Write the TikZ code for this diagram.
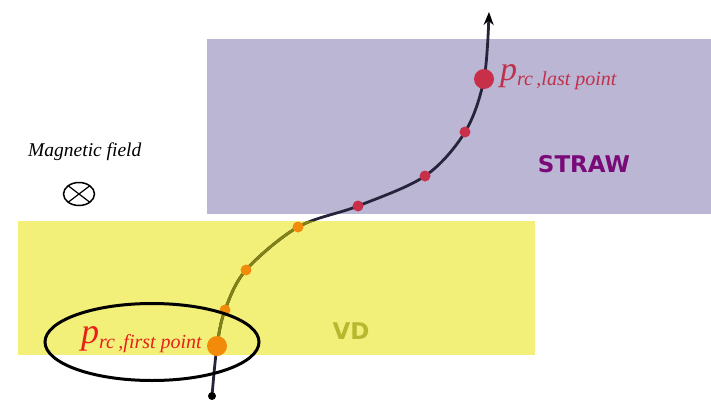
\documentclass[tikz,border=0pt]{standalone}
\usepackage{fontspec}
\setmainfont{Liberation Serif}
\newfontfamily\boldsans{DejaVu Sans}
\usetikzlibrary{arrows.meta}
\definecolor{strawfill}{HTML}{BAB6D4}
\definecolor{vdfill}{HTML}{F3F07A}
\definecolor{orangedot}{HTML}{F28A0A}
\definecolor{reddot}{HTML}{C8304A}
\definecolor{oliveline}{HTML}{828214}
\definecolor{darkline}{HTML}{24243A}
\definecolor{strawtext}{HTML}{7A0A78}
\definecolor{vdtext}{HTML}{B8B830}
\definecolor{firstred}{HTML}{E8201A}
\definecolor{lastred}{HTML}{C0304A}
\tikzset{
  smalldot/.style={circle,inner sep=0pt,minimum size=11pt},
  bigdot/.style={circle,inner sep=0pt,minimum size=20pt},
  lbl/.style={inner sep=0pt,anchor=base west},
  trackline/.style={line width=2.8pt}
}
\begin{document}
\begin{tikzpicture}[x=1pt,y=-1pt]
\useasboundingbox (0,0) rectangle (711,399);
% regions
\fill[strawfill] (207,39) rectangle (711,214);
\fill[vdfill] (18,221) rectangle (535,355);
% track coordinates
\coordinate (s) at (212,396);
\coordinate (f) at (217,346);
\coordinate (o1) at (225,310);
\coordinate (o2) at (246,270);
\coordinate (o3) at (298,227);
\coordinate (r1) at (358,206);
\coordinate (r2) at (425,176);
\coordinate (r3) at (465,132);
\coordinate (l) at (484,79);
\coordinate (t) at (489,12);
% track
\draw[trackline,darkline,-{Stealth[length=13pt,width=10pt,color=black]}] plot[smooth,tension=0.55] coordinates {(s) (f) (o1) (o2) (o3) (r1) (r2) (r3) (l) (t)};
\begin{scope}
\clip (0,221) rectangle (711,355);
\draw[trackline,oliveline] plot[smooth,tension=0.55] coordinates {(s) (f) (o1) (o2) (o3) (r1) (r2) (r3) (l) (t)};
\end{scope}
\fill[black] (s) circle (4pt);
% dots
\node[smalldot,fill=orangedot] (d1) at (o1) {};
\node[smalldot,fill=orangedot] (d2) at (o2) {};
\node[smalldot,fill=orangedot] (d3) at (o3) {};
\node[smalldot,fill=reddot] (d4) at (r1) {};
\node[smalldot,fill=reddot] (d5) at (r2) {};
\node[smalldot,fill=reddot] (d6) at (r3) {};
\node[bigdot,fill=orangedot] (first) at (f) {};
\node[bigdot,fill=reddot] (last) at (l) {};
% ellipse
\draw[line width=3pt] (152,342) ellipse [x radius=107, y radius=38.5];
% labels
\node[lbl,text=firstred] (firstlbl) at (81,343) {\itshape\fontsize{36}{36}\selectfont p\raisebox{-5pt}{\fontsize{20}{20}\selectfont rc\,,first point}};
\node[lbl,text=lastred] (lastlbl) at (500,80) {\itshape\fontsize{34}{34}\selectfont p\raisebox{-5pt}{\fontsize{20}{20}\selectfont rc\,,last point}};
\node[lbl] (mag) at (28,156) {\itshape\fontsize{19.5}{19.5}\selectfont Magnetic field};
\draw[line width=1.5pt] (79,194) ellipse [x radius=15.5, y radius=11.5];
\draw[line width=1.2pt] (79,194) ++(-10.5,8) -- ++(21,-16);
\draw[line width=1.2pt] (79,194) ++(-10.5,-8) -- ++(21,16);
\node[text=strawtext] (straw) at (584,164) {\boldsans\bfseries\fontsize{23}{23}\selectfont STRAW};
\node[text=vdtext] (vd) at (351,331) {\boldsans\bfseries\fontsize{23}{23}\selectfont VD};
\end{tikzpicture}
\end{document}
